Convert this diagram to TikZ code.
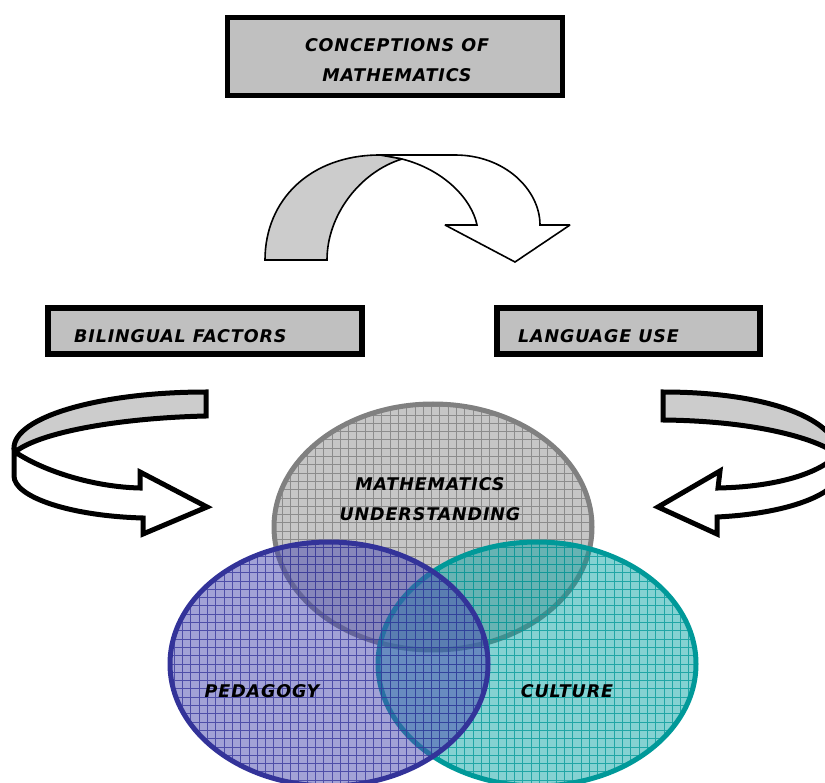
\documentclass[tikz,border=0pt]{standalone}
\usepackage{fontspec}
\newfontfamily\lblfont{DejaVu Sans}[LetterSpace=5]
\definecolor{boxgray}{HTML}{C0C0C0}
\definecolor{bandgray}{HTML}{CCCCCC}
\definecolor{mgrayfill}{HTML}{8E8E8E}
\definecolor{mgrayline}{HTML}{808080}
\definecolor{mgraygrid}{HTML}{7A7A7A}
\definecolor{pblue}{HTML}{4D4DB0}
\definecolor{pblueline}{HTML}{333399}
\definecolor{pteal}{HTML}{00A0A0}
\definecolor{ptealline}{HTML}{009999}
\tikzset{
  titlebox/.style={draw=black, line width=5pt, fill=boxgray, inner sep=0pt},
  lbl/.style={font=\lblfont\bfseries\itshape\fontsize{17.5}{30}\selectfont, inner sep=0pt, align=center},
  thinband/.style={draw=black, line width=1.6pt, line join=miter, miter limit=3},
  thickband/.style={draw=black, line width=5pt, line join=miter, miter limit=2.5},
}
\begin{document}
\begin{tikzpicture}[x=1pt,y=-1pt]
\useasboundingbox (0,0) rectangle (825,783);

% ---- boxes ----
\node[titlebox, minimum width=335pt, minimum height=78pt] (concep) at (395,56.5) {};
\node[lbl] (concept) at (397,60) {CONCEPTIONS OF\\MATHEMATICS};

\node[titlebox, line width=6pt, minimum width=314pt, minimum height=46pt] (biling) at (205,331) {};
\node[lbl, anchor=west] (bilingt) at (74,336) {BILINGUAL FACTORS};

\node[titlebox, line width=6pt, minimum width=263pt, minimum height=46pt] (langu) at (628.5,331) {};
\node[lbl, anchor=west] (langut) at (518,336) {LANGUAGE USE};

% ---- top U-turn arrow ----
\draw[thinband, fill=white]
  (380,155) -- (455,155) .. controls (505,155) and (540,190) .. (540,225)
  -- (570,225) -- (515,262) -- (445,225) -- (477,225)
  .. controls (472,200) and (445,170) .. (402,159) -- cycle;
\draw[thinband, fill=bandgray]
  (265,260) .. controls (265,200) and (310,155) .. (380,155) -- (402,159)
  .. controls (360,172) and (327,215) .. (327,260) -- cycle;

% ---- left curved arrow ----
\draw[thickband, fill=white]
  (15,452) .. controls (45,472) and (95,487) .. (140,488)
  -- (140,472) -- (207,507) -- (143,534) -- (143,518)
  .. controls (70,516) and (14,497) .. (14,476) -- (14,448) -- cycle;
\draw[thickband, fill=bandgray]
  (206,392) -- (206,416) .. controls (120,418) and (40,432) .. (15,452)
  -- (14,448) .. controls (14,417) and (100,392) .. (206,392) -- cycle;

% ---- right curved arrow ----
\draw[thickband, fill=white]
  (836,456) .. controls (815,476) and (770,487) .. (718,488)
  -- (720,471) -- (658,507) -- (717,534) -- (717,517)
  .. controls (780,514) and (845,497) .. (845,462) -- cycle;
\draw[thickband, fill=bandgray]
  (663,392) .. controls (770,392) and (838,420) .. (838,455)
  .. controls (820,440) and (760,421) .. (663,420) -- cycle;

% ---- gray ellipse ----
\begin{scope}
  \clip (433,527) ellipse [x radius=159, y radius=123];
  \fill[mgrayfill, opacity=0.5] (260,395) rectangle (600,660);
  \draw[mgraygrid, line width=0.9pt, opacity=0.75, step=8.3pt] (260,395) grid (600,660);
\end{scope}
\draw[mgrayline, line width=5pt] (433,527) ellipse [x radius=159, y radius=123];

% ---- teal ellipse ----
\begin{scope}
  \clip (537,664) ellipse [x radius=159, y radius=122];
  \fill[pteal, opacity=0.48] (370,535) rectangle (705,790);
  \draw[ptealline, line width=0.9pt, opacity=0.75, step=8.3pt] (370,535) grid (705,790);
\end{scope}
\draw[ptealline, line width=5pt] (537,664) ellipse [x radius=159, y radius=122];

% ---- blue ellipse ----
\begin{scope}
  \clip (329,664) ellipse [x radius=159, y radius=122];
  \fill[pblue, opacity=0.52] (160,535) rectangle (500,790);
  \draw[pblueline, line width=0.9pt, opacity=0.75, step=8.3pt] (160,535) grid (500,790);
\end{scope}
\draw[pblueline, line width=5pt] (329,664) ellipse [x radius=159, y radius=122];

% ---- ellipse labels ----
\node[lbl] (mathu) at (430,499) {MATHEMATICS\\UNDERSTANDING};
\node[lbl] (pedag) at (262,691) {PEDAGOGY};
\node[lbl] (cultu) at (567,691) {CULTURE};
\end{tikzpicture}
\end{document}
